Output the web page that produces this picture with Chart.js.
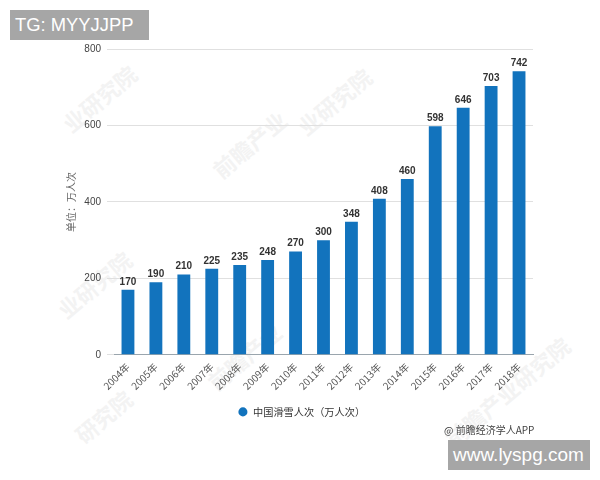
<!DOCTYPE html>
<html><head><meta charset="utf-8">
<style>
html,body{margin:0;padding:0;background:#fff;}
#wrap{position:relative;width:600px;height:480px;overflow:hidden;font-family:"Noto Sans CJK SC",sans-serif;}
canvas{position:absolute;left:0;top:0;}
.box{position:absolute;background:#a6a6a6;color:#fff;font-family:"Liberation Sans",sans-serif;white-space:nowrap;}
.wm{position:absolute;color:#f3f3f3;font-size:22px;font-weight:700;transform:rotate(-40deg);white-space:nowrap;transform-origin:center;}
</style></head><body>
<div id="wrap">
<div class="wm" style="left:55px;top:82px;">业研究院</div>
<div class="wm" style="left:205px;top:128px;">前瞻产业</div>
<div class="wm" style="left:290px;top:85px;">业研究院</div>
<div class="wm" style="left:50px;top:268px;">业研究院</div>
<div class="wm" style="left:200px;top:340px;">前瞻产业</div>
<div class="wm" style="left:70px;top:400px;">研究院</div>
<div class="wm" style="left:430px;top:375px;">前瞻产业研究院</div>
<canvas id="c" width="600" height="480" style="width:600px;height:480px"></canvas>
<div class="box" style="left:10px;top:10px;width:139px;height:30px;line-height:30px;font-size:18.4px;padding-left:5px;box-sizing:border-box;">TG: MYYJJPP</div>
<div class="box" style="left:448px;top:440px;width:142px;height:30px;line-height:30px;font-size:19px;padding-left:5px;box-sizing:border-box;">www.lyspg.com</div>
<div style="position:absolute;left:444px;top:423px;font-size:10px;color:#444;white-space:nowrap;line-height:14px;">@ 前瞻经济学人APP</div>
</div>
<script src="https://cdn.jsdelivr.net/npm/chart.js@4/dist/chart.umd.min.js"></script>
<script>
const categories = ["2004年","2005年","2006年","2007年","2008年","2009年","2010年","2011年","2012年","2013年","2014年","2015年","2016年","2017年","2018年"];
const seriesValues = [170,190,210,225,235,248,270,300,348,408,460,598,646,703,742];
const yTicks = [0,200,400,600,800];
const seriesName = "中国滑雪人次（万人次）";
const yTitle = "单位：万人次";
const fontFamily = '"Noto Sans CJK SC",sans-serif';

const valueLabels = {
  id:'valueLabels',
  afterDatasetsDraw(chart){
    const ctx=chart.ctx, meta=chart.getDatasetMeta(0);
    ctx.save();
    ctx.font='bold 10px "Liberation Sans",sans-serif';
    ctx.fillStyle='#333';
    ctx.textAlign='center';
    ctx.textBaseline='bottom';
    meta.data.forEach((bar,i)=>ctx.fillText(seriesValues[i],bar.x,bar.y-3));
    ctx.restore();
  }
};
new Chart(document.getElementById('c'),{
  type:'bar',
  data:{labels:categories,datasets:[{label:seriesName,data:seriesValues,backgroundColor:'#1273bd',borderWidth:0,barPercentage:0.46,categoryPercentage:1}]},
  plugins:[valueLabels],
  options:{
    responsive:false,animation:false,devicePixelRatio:1,
    layout:{padding:{left:70,right:67,top:49,bottom:53}},
    plugins:{
      tooltip:{enabled:false},
      legend:{position:'bottom',labels:{usePointStyle:true,pointStyle:'circle',boxWidth:10,boxHeight:6.4,padding:11,color:'#333',font:{family:fontFamily,size:10.2}}}
    },
    scales:{
      x:{
        grid:{display:false,drawTicks:true,tickLength:5,tickColor:'#9db4c6'},
        border:{color:'#9aa5ad'},
        ticks:{maxRotation:45,minRotation:45,autoSkip:false,padding:1,color:'#555',font:{family:fontFamily,size:10}},
        afterFit(s){s.height=41;}
      },
      y:{
        min:0,max:800,
        afterBuildTicks(s){s.ticks=yTicks.map(v=>({value:v}));},
        afterFit(s){s.width=44;},
        grid:{color:'#e0e0e0',tickLength:7,tickColor:'#e0e0e0'},
        border:{display:false},
        ticks:{padding:6,color:'#444',font:{family:'"Liberation Sans",sans-serif',size:10}},
        title:{display:true,text:yTitle,color:'#666',font:{family:fontFamily,size:10},padding:{top:-5,bottom:0}}
      }
    }
  }
});
</script>
</body></html>
